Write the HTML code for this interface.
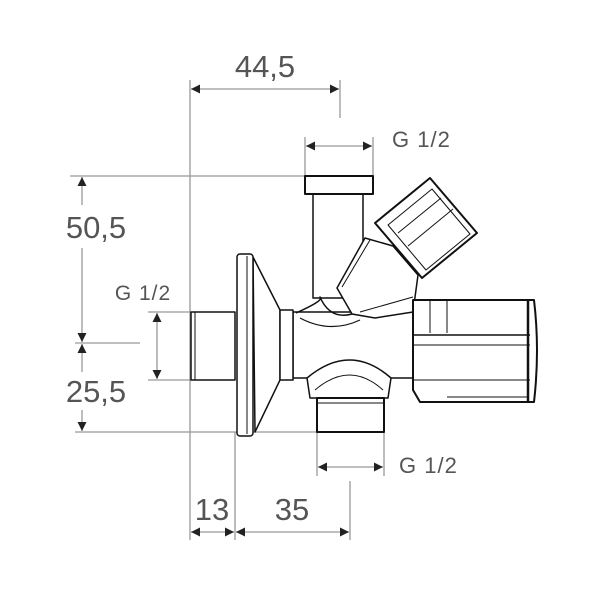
<!DOCTYPE html>
<html><head><style>html,body{margin:0;padding:0;background:#fff}svg{display:block}</style></head>
<body>
<svg width="600" height="600" viewBox="0 0 600 600" xmlns="http://www.w3.org/2000/svg">
<defs>
<marker id="a" viewBox="0 0 10 10" refX="10" refY="5" markerWidth="9" markerHeight="9" orient="auto-start-reverse" markerUnits="userSpaceOnUse"><path d="M0,0L10,5L0,10z" fill="#222"/></marker>
</defs>
<g stroke="#999" stroke-width="1.3" fill="none">
<line x1="190" y1="80" x2="190" y2="540"/>
<line x1="340" y1="80" x2="340" y2="118"/>
<line x1="305" y1="137" x2="305" y2="176"/>
<line x1="373" y1="137" x2="373" y2="176"/>
<line x1="70" y1="176" x2="305" y2="176"/>
<line x1="148" y1="312" x2="190" y2="312"/>
<line x1="148" y1="380" x2="190" y2="380"/>
<line x1="75" y1="343" x2="140" y2="343"/>
<line x1="75" y1="432" x2="317" y2="432"/>
<line x1="235" y1="432" x2="235" y2="540"/>
<line x1="350" y1="481" x2="350" y2="540"/>
<line x1="317" y1="432" x2="317" y2="476"/>
<line x1="384" y1="432" x2="384" y2="476"/>
</g>
<g stroke="#999" stroke-width="1.3" fill="none" marker-start="url(#a)" marker-end="url(#a)">
<line x1="191" y1="89" x2="339" y2="89"/>
<line x1="306" y1="146" x2="372" y2="146"/>
<line x1="157" y1="313" x2="157" y2="379"/>
<line x1="318" y1="467" x2="383" y2="467"/>
<line x1="191" y1="532" x2="234" y2="532"/>
<line x1="236" y1="532" x2="349" y2="532"/>
</g>
<g stroke="#999" stroke-width="1.3" fill="none">
<line x1="82" y1="177" x2="82" y2="205" marker-start="url(#a)"/>
<line x1="82" y1="248" x2="82" y2="342" marker-end="url(#a)"/>
<line x1="82" y1="344" x2="82" y2="372" marker-start="url(#a)"/>
<line x1="82" y1="410" x2="82" y2="431" marker-end="url(#a)"/>
</g>
<g font-family="Liberation Sans, sans-serif" fill="#555">
<text x="265" y="77" font-size="31" text-anchor="middle">44,5</text>
<text x="392" y="147" font-size="22" letter-spacing="1">G 1/2</text>
<text x="96" y="238" font-size="31" text-anchor="middle">50,5</text>
<text x="143" y="300" font-size="21" letter-spacing="1" text-anchor="middle">G 1/2</text>
<text x="96" y="402" font-size="31" text-anchor="middle">25,5</text>
<text x="399" y="473" font-size="22" letter-spacing="1">G 1/2</text>
<text x="212" y="520" font-size="31" text-anchor="middle">13</text>
<text x="292" y="520" font-size="31" text-anchor="middle">35</text>
</g>
<g stroke="#111" stroke-width="1.5" fill="#fff" stroke-linejoin="round">
<rect x="191" y="312" width="44" height="68"/>
<line x1="195" y1="312" x2="195" y2="380" stroke-width="1"/>
<path d="M293,312 L413,312 L413,378 L293,378 Z"/>
<path d="M253,257 L280,310 L280,380 L255,432 Z"/>
<rect x="237" y="254" width="16" height="182" rx="3"/>
<line x1="247" y1="256" x2="247" y2="434" stroke-width="1"/>
<rect x="280" y="310" width="13" height="70"/>
<rect x="313" y="194" width="50" height="104"/>
<rect x="305" y="176" width="68" height="18" stroke-width="2"/>
<path d="M296,313 Q325,300 320,297 Q330,320 352,314 Q368,312 378,307" fill="none"/>
<path d="M300,318 Q330,334 360,320" fill="none" stroke-width="1.2"/>
<path d="M337,288 L365,238 L393,246 L418,275 L413,312 L375,318 L352,314 Z"/>
<line x1="342" y1="287" x2="370" y2="240" stroke-width="1"/>
<line x1="360" y1="312" x2="413" y2="297" stroke-width="1"/>
<path d="M375,223 L430,178 L477,233 L422,278 Z" stroke-width="2"/>
<path d="M388,225 L432,189 L470,234 L426,270 Z" stroke-width="1"/>
<line x1="398" y1="233" x2="441" y2="198" stroke-width="1"/>
<line x1="408" y1="246" x2="453" y2="209" stroke-width="1"/>
<path d="M307,378 Q350,342 391,378 L388,398 L310,398 Z"/>
<path d="M315,390 Q350,360 383,390" fill="none" stroke-width="1"/>
<rect x="317" y="398" width="67" height="34" stroke-width="2"/>
<line x1="317" y1="403" x2="384" y2="403" stroke-width="1"/>
<path d="M413,300 L534,300 Q540,350 534,402 L420,402 L413,390 Z" stroke-width="2"/>
<line x1="413" y1="335" x2="530" y2="335"/>
<line x1="413" y1="345" x2="530" y2="345" stroke-width="1"/>
<line x1="413" y1="380" x2="530" y2="380" stroke-width="1"/>
<line x1="430" y1="300" x2="430" y2="333" stroke-width="1"/>
<line x1="447" y1="300" x2="447" y2="333" stroke-width="1"/>
<line x1="528" y1="300" x2="528" y2="402" stroke-width="2.5"/>
<line x1="447" y1="397" x2="528" y2="397" stroke-width="1"/>
</g>
</svg>
</body></html>
